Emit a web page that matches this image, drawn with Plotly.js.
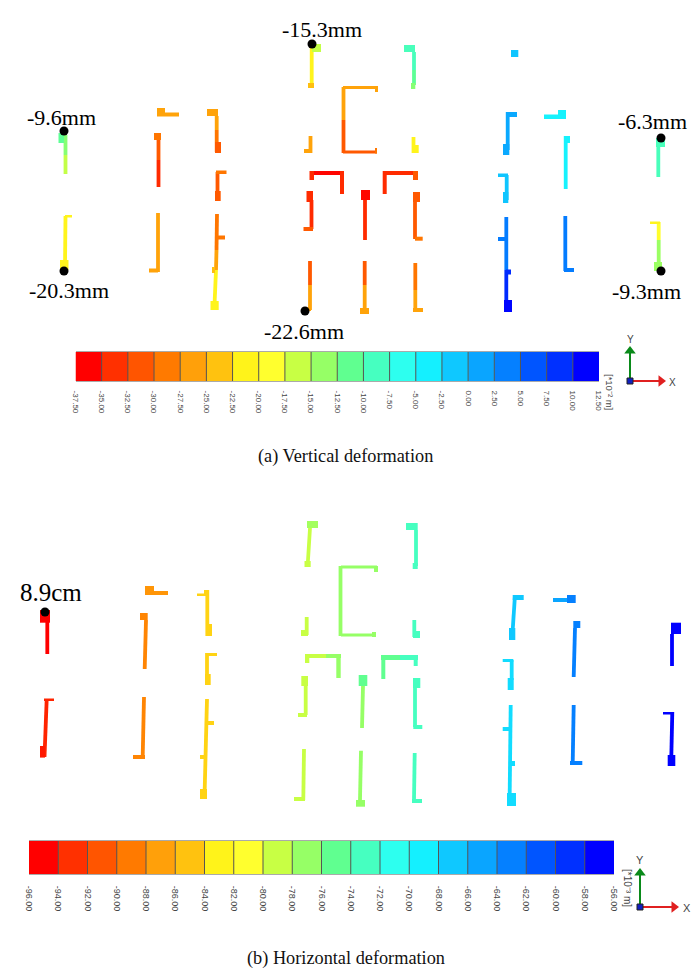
<!DOCTYPE html>
<html>
<head>
<meta charset="utf-8">
<script src="https://cdn.plot.ly/plotly-3.0.1.min.js"></script>
<style>body{margin:0;background:#fff}</style>
</head>
<body>
<div id="graphDiv" style="width:691px;height:968px"></div>
<script>
// contour bands, red to blue, same for both panels
var bandColors = ['#ff0000','#ff3000','#ff5500','#ff7a00','#ffa00a','#ffc20f','#fff31a','#ffff2e','#c8ff44','#96ff66',
  '#60ff90','#46ffc0','#2dffef','#14f0ff','#0fc8ff','#0aa5ff','#0580ff','#0055ff','#0030ff','#0000ff'];

var topTicks = [-37.5,-35,-32.5,-30,-27.5,-25,-22.5,-20,-17.5,-15,-12.5,-10,-7.5,-5,-2.5,0,2.5,5,7.5,10,12.5];
var topLabels = ['-37.50','-35.00','-32.50','-30.00','-27.50','-25.00','-22.50','-20.00','-17.50','-15.00','-12.50','-10.00','-7.50','-5.00','-2.50','0.00','2.50','5.00','7.50','10.00','12.50'];
var botTicks = [-96,-94,-92,-90,-88,-86,-84,-82,-80,-78,-76,-74,-72,-70,-68,-66,-64,-62,-60,-58,-56];
var botLabels = ['-96.00','-94.00','-92.00','-90.00','-88.00','-86.00','-84.00','-82.00','-80.00','-78.00','-76.00','-74.00','-72.00','-70.00','-68.00','-66.00','-64.00','-62.00','-60.00','-58.00','-56.00'];

// webs: x1, y1, x2, y2, deformation
var topLegs = [
  [65.5,135,65.5,155,-13],[65.5,155,65.5,174,-16],[65.5,216,65,266,-21],
  [158.5,135,158.5,160,-31],[158.5,160,158.5,187,-34],[158,213,158,272,-26],
  [216.7,116,216.7,130,-26],[216.7,130,216.7,152,-29],[217.5,172,217.5,200,-31],
  [217,214,216.5,250,-29],[216.5,250,216,270,-26],[216,270,214.5,305,-21],
  [311.7,46,311.7,85,-21],[310.5,136,310.5,153,-26],[311.5,200,311.5,229,-34],
  [310,261,310,285,-31],[310,285,310,310,-26],
  [343.5,87,343.5,120,-26],[343.5,120,343.5,153,-31],
  [365,200,365,240,-34],[364.7,261,364.7,285,-31],[364.7,285,364.7,308,-26],
  [415,202,415,239,-31],[415.3,263,415.3,290,-29],[415.3,290,415.3,310,-26],
  [413.5,137,413.5,153,-21],[414,52,414,70,-9],[414,70,414,85,-11],
  [507.7,112,507.7,150,1],[506.7,175,506.7,200,-1],[506.3,217,506.3,270,4],[506.3,270,506.3,300,9],
  [565.7,136,565.7,189,-4],[565.3,216,565.3,271,4],
  [658.3,147,658.3,177,-9],[658.7,222,658.7,240,-19],[658.7,240,658.7,262,-14]
];
// flanges and stiffeners: left, top, right, bottom, deformation
var topRects = [
  [58.5,133,64,143,-11],[60,260,68.5,270,-21],[65,215,72,217.5,-21],
  [165,112.5,179,116.5,-26],[157,108,165,116.5,-26],[154,133,161,140,-29],[149,268.5,158,272.5,-26],
  [207,109,218,116,-26],[215,142,221,153,-31],[216,170.5,226.5,174,-29],[215,191,220.7,201,-31],
  [217,235.5,225,239.5,-29],[212,267,215,273,-24],[210.5,301,218.7,310,-21],
  [312,44,321,52,-16],[308,83,314,88,-24],[304,149,312,153,-26],
  [310,171,344,175,-36],[309.5,171,314,180,-34],[340,171,344,194,-34],
  [306.5,191,313,202,-34],[303.5,227,313,231,-31],[303,307.5,311,311,-26],
  [343,86,378,89,-26],[375,86,378,92,-26],[343,150.5,377,153.5,-31],[375,148,377,153.5,-29],
  [361,190,370,200,-36],[360,308,369,314,-26],
  [382.7,171,386.7,194,-34],[383,171,417,175,-34],[413,171,418,180,-31],
  [413,192,420,202,-31],[415,236.7,422.7,240.7,-29],[413,308,423,312,-26],
  [412,145,418.7,153,-21],[404,45,415,52,-9],[411,83,415.3,89,-13],
  [511,50,518.3,57,-1],[506,112,517,117,1],[503,144,509.3,155,1],
  [498,173.5,508,177,-1],[503,192,508.3,203,-1],[498,237,506,241,4],[506,269.5,511,274.5,9],[504,300,512,312,11],
  [558,110,566,119,-4],[544,114.5,566,119,-4],[564,136,570,143,-4],[564,268,574,272,4],
  [656,138,665,147,-9],[650,221.5,660,224,-21],[654,262,662,271,-14]
];
var botLegs = [
  [47.3,620,47.3,654,-95],[46.7,699,44.5,757,-93.5],
  [146,620,144.7,669,-88.4],[144,697,142.7,757,-88.4],
  [207.3,590,207.3,636,-84.3],[207,653,207,685,-84.3],[207,699,204.7,790,-84.3],
  [310,528,307.7,565,-79],[306.7,617,306.7,635,-79],[305.7,686,305.7,715,-79],[304,749,303.3,800,-79],
  [340.5,566,340.5,636,-77],
  [363,686,362,728,-77],[361,750.7,360,800,-77],
  [415,688,415,727,-73],[414.7,753,414,800,-73],[416,530,416,566,-73],[414.3,620,414.3,637,-73],
  [515,595,512.7,630,-67],[511.7,660,511.7,680,-68],[510.7,705,509.7,793,-68],
  [575,628,573.7,677,-63],[573.7,705,572.7,763,-63],
  [672,634,672,666,-57],[672.3,712,671.3,757,-57]
];
var botRects = [
  [40,610,50,622.7,-95],[44,698.5,54,701,-93.5],[40,746,45,757.6,-94],
  [145,586,154,595,-87.6],[154,591,168,595,-87.6],[140,613,147.7,620,-88.4],[133,755,145,759,-88.4],
  [197,593.5,208,596,-84.3],[204,590,209,594,-84.3],[206,624,212,636,-84.3],[206,653,217,656,-84.3],[205,674,210.7,685,-84.3],
  [207,721,214,725,-84.3],[200,755,205,759,-84.3],[200,789,207,799,-84.3],
  [307,521,318,528,-77.5],[304.5,561,310.7,567,-79],[301,630,308,636,-79],
  [305,654,326,658,-79],[326,654,341,658,-77],[305,654,309.3,663,-79],[336.3,654,340.7,678,-77],
  [301.3,676,308,686,-79],[298,713,307,717,-79],[294,797,305,801,-79],
  [341,565.5,377,568.5,-77],[374,566,378,572,-77],[341,633.5,376,636.5,-77],[372,632,376,637,-77],
  [358.7,675,367.3,686,-75],[356,800,365,806.7,-77],
  [381.3,655,385.3,679,-75],[381,655,400,660,-75],[400,655,418,660,-73],[413.7,655,417.7,666,-73],
  [413,678,420.3,688,-73],[413.3,725,422.3,729,-73],[412,799,422,803,-73],
  [406,523,417.7,530,-73],[412.7,563,417.7,569,-73],[413,631,420,638,-73],
  [512.7,595,523.7,600,-67],[509,628,515.3,640,-67],[502.7,659,513.3,662,-68],[507.7,678,513.7,690,-68],
  [502.7,727,510,731,-68],[510,761,515,766,-68],[507,793,516,806,-68],
  [567,595,575.7,603,-63],[553,598,567,602,-65],[573.3,621,580.3,628,-63],[570,761,582.3,765,-63],
  [671,622.7,681,634,-57],[663,712,673.3,714.5,-57],[667.7,755,675.3,766,-57]
];

// measured points and their labels
var dotX = [64,64,312,305,661,661,45];
var dotY = [131,271,44,311,138,271,612];
var calloutText = ['-15.3mm','-9.6mm','-20.3mm','-22.6mm','-6.3mm','-9.3mm','8.9cm'];
var calloutX = [321.5,61.5,68.5,303.5,652.5,646.5,51];
var calloutY = [29,117,290,331,121,291,592];
var calloutSize = [22,22,22,22,22,22,25];

// colour between the two nearest band centres
function bandColor(v, ticks) {
  var step = ticks[1] - ticks[0];
  var t = (v - ticks[0]) / step - 0.5;
  t = Math.max(0, Math.min(bandColors.length - 1, t));
  var i = Math.min(Math.floor(t), bandColors.length - 2), f = t - i;
  var rgb = [1, 3, 5].map(function (k) {
    var a = parseInt(bandColors[i].substr(k, 2), 16), b = parseInt(bandColors[i + 1].substr(k, 2), 16);
    return Math.round(a + (b - a) * f);
  });
  return 'rgb(' + rgb.join(',') + ')';
}

var data = [];

function addMembers(legs, rects, ticks) {
  legs.forEach(function (p) {
    data.push({x: [p[0], p[2]], y: [p[1], p[3]], mode: 'lines', line: {color: bandColor(p[4], ticks), width: 3.8}, hoverinfo: 'skip'});
  });
  rects.forEach(function (p) {
    data.push({x: [p[0], p[2], p[2], p[0], p[0]], y: [p[1], p[1], p[3], p[3], p[1]], mode: 'lines', fill: 'toself',
      fillcolor: bandColor(p[4], ticks), line: {width: 0}, hoverinfo: 'skip'});
  });
}
addMembers(topLegs, topRects, topTicks);
addMembers(botLegs, botRects, botTicks);

function addScale(ticks, xa, ya) {
  var mids = [], scale = [], dx = [], dy = [];
  for (var i = 0; i < bandColors.length; i++) {
    mids.push((ticks[i] + ticks[i + 1]) / 2);
    scale.push([i / 20, bandColors[i]], [(i + 1) / 20, bandColors[i]]);
    if (i > 0) { dx.push(ticks[i], ticks[i], null); dy.push(0, 1, null); }
  }
  data.push({type: 'heatmap', x: ticks, y: [0, 1], z: [mids], xaxis: xa, yaxis: ya, colorscale: scale,
    zmin: ticks[0], zmax: ticks[20], showscale: false, hoverinfo: 'skip'});
  data.push({x: dx, y: dy, xaxis: xa, yaxis: ya, mode: 'lines', line: {color: '#555', width: 1}, hoverinfo: 'skip'});
}
addScale(topTicks, 'x2', 'y2');
addScale(botTicks, 'x3', 'y3');

// coordinate triads
function addTriad(ox, oy, yTip, xTip) {
  data.push({x: [ox, ox], y: [oy, yTip + 6], mode: 'lines', line: {color: '#0a8a1a', width: 2}, hoverinfo: 'skip'});
  data.push({x: [ox, xTip - 6], y: [oy, oy], mode: 'lines', line: {color: '#e02020', width: 2}, hoverinfo: 'skip'});
  data.push({x: [ox], y: [yTip + 4], mode: 'markers', marker: {symbol: 'triangle-up', size: 10, color: '#0a8a1a'}, hoverinfo: 'skip'});
  data.push({x: [xTip - 4], y: [oy], mode: 'markers', marker: {symbol: 'triangle-right', size: 10, color: '#e02020'}, hoverinfo: 'skip'});
  data.push({x: [ox], y: [oy], mode: 'markers', marker: {symbol: 'square', size: 6, color: '#1020c0', line: {color: '#222', width: 1}}, hoverinfo: 'skip'});
}
addTriad(630, 381, 347, 665);
addTriad(640, 907, 869, 678);

data.push({x: dotX, y: dotY, mode: 'markers', marker: {color: '#000', size: 9}, hoverinfo: 'skip'});

var serif = 'Liberation Serif, Times New Roman, serif';
var sans = 'Liberation Sans, Arial, sans-serif';

function note(text, x, y, font, size, color, angle) {
  return {text: text, x: x, y: y, xref: 'x', yref: 'y', showarrow: false, xanchor: 'center', yanchor: 'middle',
    textangle: angle || 0, font: {family: font, size: size, color: color}};
}
var annotations = calloutText.map(function (t, i) {
  return note(t, calloutX[i], calloutY[i], serif, calloutSize[i], '#000');
});
annotations.push(note('(a) Vertical deformation', 345, 456, serif, 18.3, '#111'));
annotations.push(note('(b) Horizontal deformation', 346, 958, serif, 18.3, '#111'));
annotations.push(note('[*10⁻² m]', 610, 392, sans, 9.5, '#444', 90));
annotations.push(note('[*10⁻³ m]', 628, 888, sans, 10, '#444', 90));
annotations.push(note('Y', 630, 339, sans, 10, '#444'));
annotations.push(note('X', 672, 382, sans, 10, '#444'));
annotations.push(note('Y', 640, 860, sans, 11, '#444'));
annotations.push(note('X', 687, 908, sans, 11, '#444'));

function scaleAxis(ticks, labels, left, right, anchor, standoff, size) {
  return {domain: [left / 691, right / 691], range: [ticks[0], ticks[20]], anchor: anchor, tickmode: 'array',
    tickvals: ticks, ticktext: labels, tickangle: 90, ticks: 'outside', ticklen: standoff, tickcolor: 'rgba(0,0,0,0)',
    tickfont: {family: sans, size: size, color: '#444'}, showgrid: false, zeroline: false,
    showline: true, mirror: true, linecolor: '#aaa', linewidth: 1, fixedrange: true};
}
function scaleYAxis(top, bottom, anchor) {
  return {domain: [1 - bottom / 968, 1 - top / 968], range: [0, 1], anchor: anchor, visible: false, fixedrange: true};
}

var layout = {
  width: 691, height: 968,
  margin: {l: 0, r: 0, t: 0, b: 0},
  showlegend: false,
  paper_bgcolor: '#fff', plot_bgcolor: '#fff',
  xaxis: {range: [0, 691], visible: false, fixedrange: true},
  yaxis: {range: [968, 0], visible: false, fixedrange: true},
  xaxis2: scaleAxis(topTicks, topLabels, 75.5, 599, 'y2', 7, 8),
  yaxis2: scaleYAxis(352, 381, 'x2'),
  xaxis3: scaleAxis(botTicks, botLabels, 29, 614, 'y3', 9, 9),
  yaxis3: scaleYAxis(841, 874, 'x3'),
  annotations: annotations
};

Plotly.newPlot('graphDiv', data, layout, {displayModeBar: false, staticPlot: true});
</script>
</body>
</html>
